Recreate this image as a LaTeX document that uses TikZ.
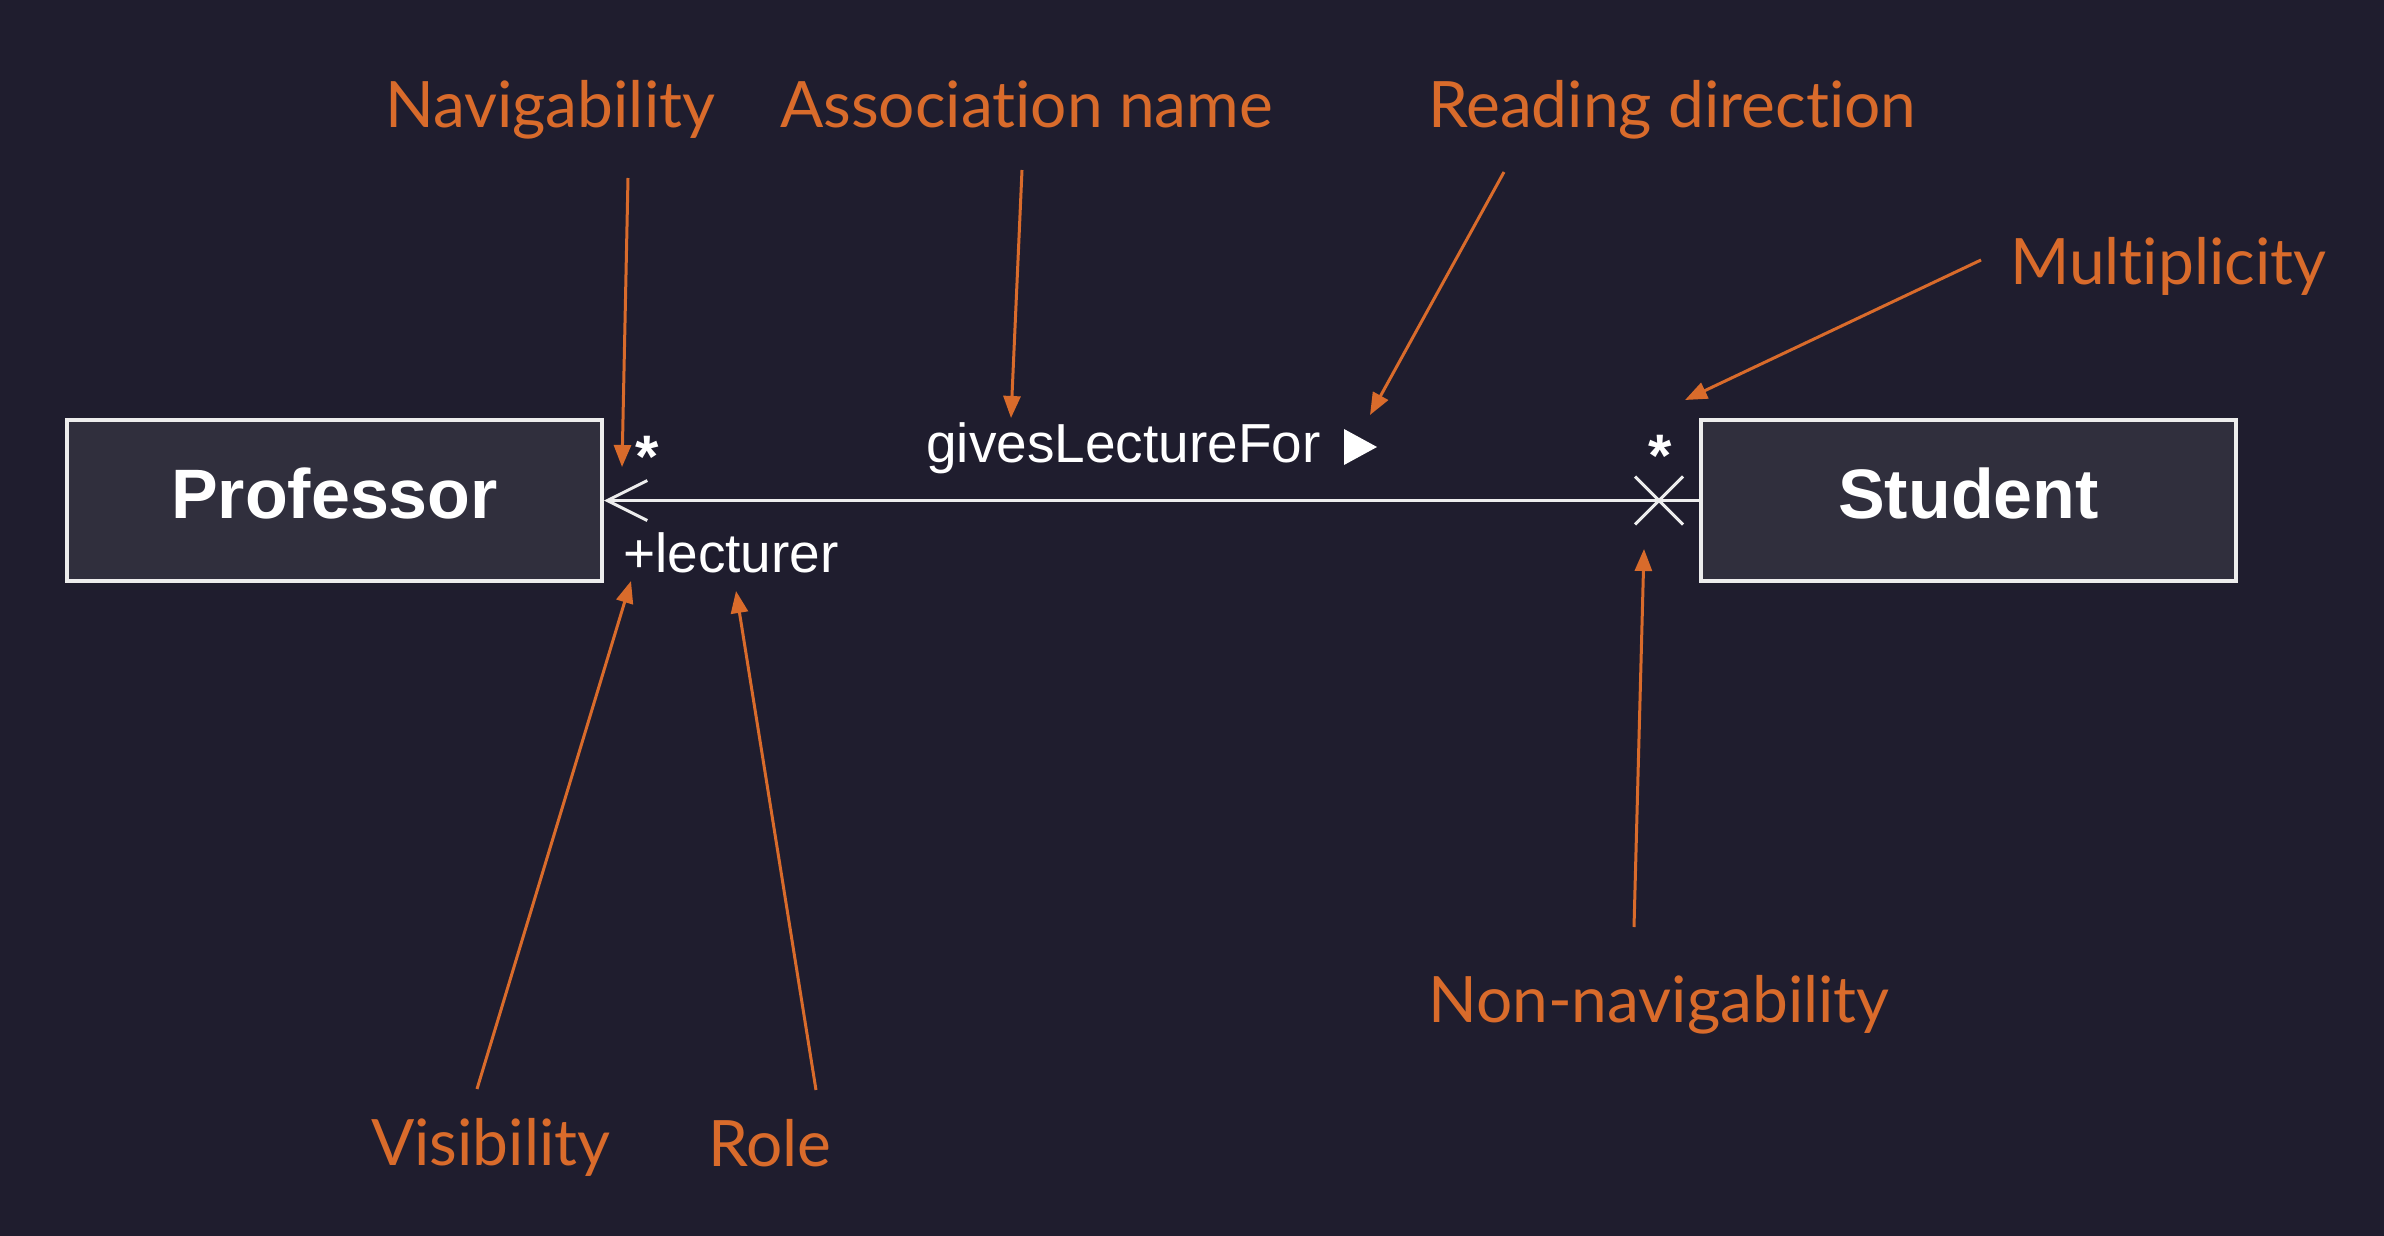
\documentclass[tikz,border=0pt]{standalone}
\usepackage{fontspec}
\setmainfont{Liberation Sans}
\newfontfamily\notefont[Ligatures={NoCommon}]{Lato}
\usetikzlibrary{arrows.meta,positioning,calc}
\definecolor{bg}{HTML}{1F1D2E}
\definecolor{boxfill}{HTML}{302F3D}
\definecolor{note}{HTML}{D96B2B}
\definecolor{umlline}{HTML}{EDEDED}

\begin{document}
\begin{tikzpicture}[
    x=1pt, y=-1pt,
    cls/.style={draw=umlline, line width=4pt, fill=boxfill, minimum width=535pt, minimum height=161pt,
      text depth=14pt, text=white, font=\fontsize{70}{80}\selectfont\bfseries},
    umltext/.style={text=white, inner sep=0pt, font=\fontsize{55}{62}\selectfont},
    mult/.style={umltext, font=\fontsize{60}{62}\selectfont\bfseries},
    notelabel/.style={text=note, inner sep=0pt, font=\notefont\fontsize{64}{72}\selectfont},
    assoc/.style={draw=umlline, line width=3pt},
    arrow/.style={-{Triangle[length=22pt,width=17pt]}, line width=3pt, draw=note}
  ]
    \fill[bg] (0,0) rectangle (2384,1236);
    % classes
    \node[cls] (prof) at (334.5,500.5) {Professor};
    \node[cls] (stu) at (1968.5,500.5) {Student};
    % association
    \draw[assoc, -{Straight Barb[length=40pt,width=40pt]}] (stu.west) -- (prof.east);
    \coordinate (cross) at ($(stu.west)+(-40,0)$);
    \draw[assoc] ($(cross)+(-24,-24)$) -- ($(cross)+(24,24)$);
    \draw[assoc] ($(cross)+(-24,24)$) -- ($(cross)+(24,-24)$);
    \node[mult] (profmult) at (647,457) {*};
    \node[mult] (stumult) at (1660,456) {*};
    \node[umltext, anchor=west] (role) at (623,553) {+lecturer};
    \node[umltext, anchor=west] (assocname) at (926,448) {givesLectureFor};
    \fill[white] (1344,429) -- (1377,447) -- (1344,465) -- cycle;
    % annotations
    \node[notelabel, anchor=base west] (navnote) at (385,128) {Navigability};
    \node[notelabel, anchor=base west] (namenote) at (780,128) {Association name};
    \node[notelabel, anchor=base west] (dirnote) at (1428,128) {Reading direction};
    \node[notelabel, anchor=base west] (multnote) at (2010,284) {Multiplicity};
    \node[notelabel, anchor=base west] (nonnavnote) at (1428,1022) {Non-navigability};
    \node[notelabel, anchor=base west] (visnote) at (371,1165) {Visibility};
    \node[notelabel, anchor=base west] (rolenote) at (708,1166) {Role};
    \coordinate (navfrom) at (628,178);     \coordinate (navto) at (622,467);
    \coordinate (namefrom) at (1022,170);   \coordinate (nameto) at (1011,418);
    \coordinate (dirfrom) at (1504,172);    \coordinate (dirto) at (1370,415);
    \coordinate (multfrom) at (1981,260);   \coordinate (multto) at (1685,400);
    \coordinate (nonnavfrom) at (1634,927); \coordinate (nonnavto) at (1644,549);
    \coordinate (visfrom) at (477,1089);    \coordinate (visto) at (631,581);
    \coordinate (rolefrom) at (816,1090);   \coordinate (roleto) at (736,591);
    \draw[arrow] (navfrom) -- (navto);
    \draw[arrow] (namefrom) -- (nameto);
    \draw[arrow] (dirfrom) -- (dirto);
    \draw[arrow] (multfrom) -- (multto);
    \draw[arrow] (nonnavfrom) -- (nonnavto);
    \draw[arrow] (visfrom) -- (visto);
    \draw[arrow] (rolefrom) -- (roleto);
  \end{tikzpicture}
\end{document}
